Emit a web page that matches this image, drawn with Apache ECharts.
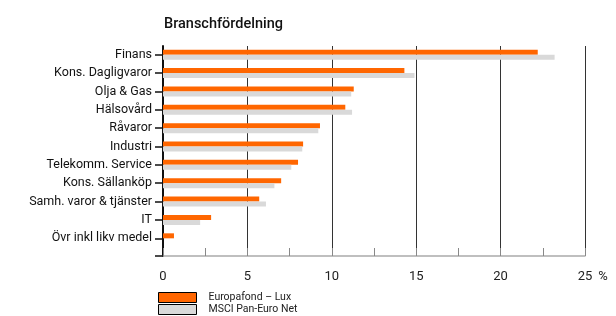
<!DOCTYPE html>
<html>
<head>
<meta charset="utf-8">
<script src="https://cdn.jsdelivr.net/npm/echarts@6/dist/echarts.min.js"></script>
<style>
  html, body { margin: 0; padding: 0; background: #fff; }
  #chart { width: 616px; height: 316px; }
</style>
</head>
<body>
<div id="chart"></div>
<script>
// branscher, uppifrån och ner
var categories = ['Finans', 'Kons. Dagligvaror', 'Olja & Gas', 'Hälsovård', 'Råvaror', 'Industri',
  'Telekomm. Service', 'Kons. Sällanköp', 'Samh. varor & tjänster', 'IT', 'Övr inkl likv medel'];
var fondValues = [22.2, 14.3, 11.3, 10.8, 9.3, 8.3, 8.0, 7.0, 5.7, 2.85, 0.65];
var indexValues = [23.2, 14.9, 11.15, 11.2, 9.2, 8.25, 7.6, 6.6, 6.1, 2.2, 0];
var seriesNames = ['Europafond – Lux', 'MSCI Pan-Euro Net'];
var xTicks = [0, 5, 10, 15, 20, 25];

var font = 'Roboto, "DejaVu Sans", sans-serif';
var myChart = echarts.init(document.getElementById('chart'));

var option = {
  animation: false,
  title: {
    text: 'Branschfördelning',
    left: 159, top: 12,
    textStyle: { fontFamily: font, fontSize: 14.5, fontWeight: 500, color: '#111' }
  },
  legend: {
    orient: 'vertical',
    left: 158, top: 292, padding: 0,
    itemWidth: 38, itemHeight: 10, itemGap: 1,
    icon: 'rect',
    itemStyle: { borderColor: '#000', borderWidth: 1 },
    textStyle: { fontFamily: font, fontSize: 10.5, color: '#222', padding: [0, 0, 0, 7] },
    data: seriesNames
  },
  grid: [
    // staplarna
    { left: 163, right: 31, top: 45.5, height: 202 },
    // axlar och stödlinjer
    { left: 163, right: 31, top: 46, height: 210 }
  ],
  xAxis: [
    { gridIndex: 0, type: 'value', min: 0, max: 25, show: false },
    {
      gridIndex: 1, type: 'value', min: 0, max: 25, interval: 5,
      name: '%', nameLocation: 'end', nameGap: 10,
      nameTextStyle: { fontFamily: font, fontSize: 13, color: '#222', verticalAlign: 'top', padding: [14, 0, 0, 0] },
      axisLine: { show: true, lineStyle: { color: '#aaa', width: 1.5 } },
      axisTick: { show: true, inside: true, length: 8, lineStyle: { color: '#888' } },
      minorTick: { show: true, splitNumber: 2, length: 8, lineStyle: { color: '#888', width: 1 } },
      splitLine: { show: true, lineStyle: { color: '#333', width: 1 } },
      axisLabel: { fontFamily: font, fontSize: 13, color: '#222', margin: 14,
        customValues: xTicks }
    }
  ],
  yAxis: [
    {
      gridIndex: 0, type: 'category', inverse: true, data: categories,
      axisLine: { show: false },
      axisTick: { show: true, alignWithLabel: true, length: 8, lineStyle: { color: '#111', width: 1.5 } },
      axisLabel: { fontFamily: font, fontSize: 12.5, color: '#111', margin: 11 }
    },
    {
      gridIndex: 1, type: 'value', min: 0, max: 1, interval: 1,
      axisLine: { show: true, lineStyle: { color: '#111', width: 2 } },
      axisTick: { show: true, length: 8, customValues: [0], lineStyle: { color: '#111', width: 1.5 } },
      axisLabel: { show: false },
      splitLine: { show: false }
    }
  ],
  series: [
    {
      name: seriesNames[0], type: 'bar', xAxisIndex: 0, yAxisIndex: 0,
      data: fondValues, barWidth: 5, barGap: '0%',
      itemStyle: { color: '#ff6600' }
    },
    {
      name: seriesNames[1], type: 'bar', xAxisIndex: 0, yAxisIndex: 0,
      data: indexValues, barWidth: 5, barGap: '0%',
      itemStyle: { color: '#d9d9d9' }
    }
  ]
};

myChart.setOption(option);
</script>
</body>
</html>
